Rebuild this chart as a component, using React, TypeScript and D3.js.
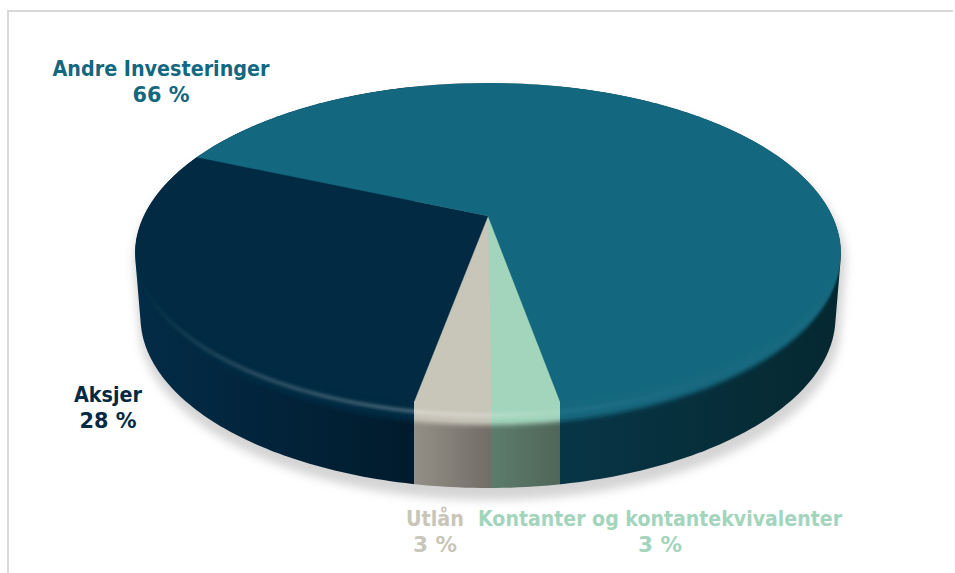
import React from "react";
import * as d3 from "d3";

const categories = ["Kontanter og kontantekvivalenter", "Utlån", "Aksjer", "Andre Investeringer"];
const shares = [2.75, 3.1, 28.45, 65.7];
const shareLabels = ["3 %", "3 %", "28 %", "66 %"];
const topColors = ["#a3d5bc", "#c8c5b9", "#022a43", "#13677f"];
const labelColors = ["#a3d5bc", "#c8c5b9", "#022a43", "#13677f"];
const wallFrom = ["#5d7c6b", "#948f86", "#032c48", "#083546"];
const wallTo = ["#4f6659", "#716d67", "#011b2c", "#052830"];
const labelCenterX = [660, 435, 108, 161];
const labelBaseY = [526, 526, 402, 76];
const labelWidth = [364, 58, 68, 217];
const pctWidth = [44, 44, 57, 57];

const W = 955, H = 573;
const cx = 488, apexY = 216, persp = 0.222, A = 344, B = 162.6, depth = 63, lowerScale = 0.985;
const innerCy = 244, innerRy = 161, innerRx = 353;
const rotation = (0.5 * Math.PI) / 180;

// Perspective projection of a disk; angle measured clockwise from the viewer's side
const project = (a: number, r = 1): [number, number] => {
  const X = -Math.sin(a) * r, Y = Math.cos(a) * r;
  const w = 1 - persp * Y;
  return [cx + (A * X) / w, apexY + (B * Y) / w];
};

const start = -(shares[0] * 3.6 * Math.PI) / 180 - rotation;
const pie = d3.pie<number>().sort(null).startAngle(start).endAngle(2 * Math.PI + start);
const arcs = pie(shares);
const line = d3.line();
const samples = (a0: number, a1: number, n = 160) => d3.range(n + 1).map((i) => a0 + ((a1 - a0) * i) / n);

const slicePath = (a0: number, a1: number) =>
  line([[cx, apexY], ...samples(a0, a1).map((a) => project(a))])! + "Z";
const outerEllipse = line(samples(0, 2 * Math.PI, 360).map((a) => project(a)))! + "Z";
const lowerPoint = (a: number): [number, number] => {
  const [x, y] = project(a);
  return [cx + (x - cx) * lowerScale, y + depth];
};

// x position where a slice seam meets the flat top's edge (it runs vertically from there)
const seamX = (a: number) => {
  const [ex, ey] = project(a);
  const lo = d3.range(0, 1.0001, 0.002).find((t) => {
    const x = cx + (ex - cx) * t, y = apexY + (ey - apexY) * t;
    return ((x - cx) / innerRx) ** 2 + ((y - innerCy) / innerRy) ** 2 >= 1;
  }) ?? 1;
  return cx + (ex - cx) * lo;
};
const seam0 = Math.round(seamX(arcs[0].startAngle)); // green / teal
const seam1 = Math.round(seamX(arcs[0].endAngle)); // green / beige
const seam2 = Math.round(seamX(arcs[1].endAngle)); // beige / navy
const bands: [number, number][] = [[seam1, seam0], [seam2, seam1], [0, seam2], [seam0, W]];
const wallSpan: [number, number][] = [[seam1, seam0], [seam2, seam1], [135, seam2], [seam0, 841]];

const hull = d3.polygonHull([
  ...samples(0, 2 * Math.PI, 360).map((a) => project(a)),
  ...samples(0, 2 * Math.PI, 360).map(lowerPoint),
] as [number, number][])!;
const hullPath = line(hull)! + "Z";

const highlightArc = line(
  samples(-1.45, 1.45, 200).map((a) => {
    const [x] = project(a);
    const dx = (x - cx) / innerRx;
    const y = (innerCy + 254) / 2 + ((innerRy + 171) / 2) * Math.sqrt(Math.max(0, 1 - dx * dx));
    return [x, y] as [number, number];
  }),
)!;

export default function App() {
  return (
    <svg width={W} height={H} viewBox={`0 0 ${W} ${H}`} style={{ position: "fixed", left: 0, top: 0, display: "block", background: "#fff" }}>
      <defs>
        <filter id="shadow" x="-10%" y="-10%" width="120%" height="120%"><feGaussianBlur stdDeviation="5" /></filter>
        <filter id="soft" x="-5%" y="-5%" width="110%" height="110%"><feGaussianBlur stdDeviation="0 2.6" /></filter>
        <filter id="softer" x="-5%" y="-5%" width="110%" height="110%"><feGaussianBlur stdDeviation="1.5" /></filter>
        <clipPath id="hullClip"><path d={hullPath} /></clipPath>
        <clipPath id="outerClip"><path d={outerEllipse} /></clipPath>
        <clipPath id="innerClip"><ellipse cx={cx} cy={innerCy} rx={innerRx} ry={innerRy} /></clipPath>
        {categories.map((_, i) => (
          <linearGradient key={i} id={`wall${i}`} gradientUnits="userSpaceOnUse" x1={wallSpan[i][0]} x2={wallSpan[i][1]} y1={0} y2={0}>
            <stop offset="0" stopColor={wallFrom[i]} />
            <stop offset="1" stopColor={wallTo[i]} />
          </linearGradient>
        ))}
        <linearGradient id="hl" gradientUnits="userSpaceOnUse" x1={135} x2={841} y1={0} y2={0}>
          <stop offset="0" stopColor="#fff" stopOpacity="0" />
          <stop offset="0.16" stopColor="#fff" stopOpacity="0.16" />
          <stop offset="0.4" stopColor="#fff" stopOpacity="0.26" />
          <stop offset="0.5" stopColor="#fff" stopOpacity="0.2" />
          <stop offset="0.6" stopColor="#fff" stopOpacity="0.05" />
          <stop offset="0.75" stopColor="#fff" stopOpacity="0.02" />
          <stop offset="1" stopColor="#fff" stopOpacity="0" />
        </linearGradient>
      </defs>

      <path d="M8 573V11H953" fill="none" stroke="#d9d9d9" strokeWidth={2} />

      <path d={hullPath} transform="translate(2,9)" fill="#b8b8b8" stroke="#b8b8b8" strokeWidth={6} opacity={0.6} filter="url(#shadow)" />

      <g clipPath="url(#hullClip)">
        {bands.map((b, i) => (
          <rect key={i} x={b[0]} y={0} width={b[1] - b[0]} height={H} fill={`url(#wall${i})`} />
        ))}
        {bands.map((b, i) => (
          <g key={i} filter="url(#soft)">
            <g clipPath="url(#outerClip)">
              <rect x={b[0]} y={0} width={b[1] - b[0]} height={H} fill={topColors[i]} />
            </g>
          </g>
        ))}
        <path d={highlightArc} fill="none" stroke="url(#hl)" strokeWidth={4} filter="url(#softer)" />
      </g>

      <g clipPath="url(#innerClip)">
        {arcs.map((d, i) => (
          <path key={i} d={slicePath(d.startAngle, d.endAngle)} fill={topColors[i]} stroke={topColors[i]} strokeWidth={0.3} />
        ))}
      </g>

      {categories.map((c, i) => (
        <g key={c} fontFamily="'DejaVu Sans', sans-serif" fontWeight={700} fontSize={22} fill={labelColors[i]} textAnchor="middle">
          <text x={labelCenterX[i]} y={labelBaseY[i]} textLength={labelWidth[i]} lengthAdjust="spacingAndGlyphs">{c}</text>
          <text x={labelCenterX[i]} y={labelBaseY[i] + 26} textLength={pctWidth[i]} lengthAdjust="spacingAndGlyphs">{shareLabels[i]}</text>
        </g>
      ))}
    </svg>
  );
}
